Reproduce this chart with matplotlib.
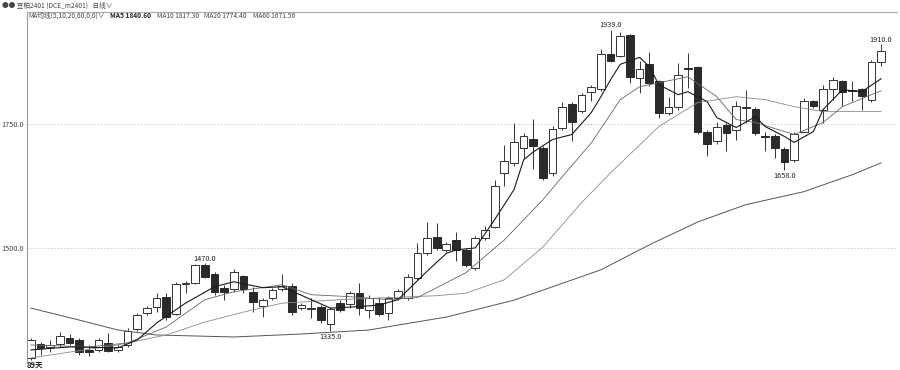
import matplotlib.pyplot as plt
from matplotlib.patches import Rectangle

plt.rcParams['font.family'] = ['Noto Sans CJK SC', 'DejaVu Sans']

# daily candles, 89 days
opens = [1280, 1307, 1302, 1308, 1320, 1315, 1296, 1296, 1310, 1296,
         1306, 1338, 1370, 1382, 1403, 1368, 1429, 1431, 1467, 1449,
         1421, 1419, 1445, 1413, 1384, 1400, 1418, 1424, 1380, 1379,
         1382, 1348, 1390, 1388, 1410, 1376, 1390, 1370, 1400, 1400,
         1441, 1491, 1523, 1496, 1516, 1497, 1461, 1521, 1544, 1652,
         1672, 1702, 1720, 1702, 1652, 1743, 1791, 1776, 1815, 1821,
         1891, 1886, 1929, 1843, 1871, 1836, 1772, 1784, 1863, 1864,
         1735, 1715, 1749, 1738, 1785, 1780, 1725, 1726, 1700, 1678,
         1735, 1796, 1779, 1821, 1836, 1818, 1821, 1799, 1874]
closes = [1316, 1300, 1306, 1324, 1310, 1292, 1292, 1315, 1294, 1302,
          1334, 1366, 1380, 1400, 1363, 1429, 1431, 1467, 1443, 1413,
          1412, 1453, 1418, 1393, 1396, 1416, 1424, 1373, 1386, 1381,
          1356, 1378, 1376, 1410, 1380, 1400, 1368, 1400, 1414, 1443,
          1491, 1521, 1501, 1509, 1497, 1467, 1521, 1537, 1626, 1675,
          1713, 1726, 1705, 1642, 1741, 1785, 1755, 1809, 1824, 1891,
          1876, 1927, 1844, 1861, 1833, 1772, 1784, 1849, 1861, 1734,
          1710, 1745, 1732, 1787, 1783, 1732, 1723, 1702, 1673, 1729,
          1797, 1786, 1821, 1839, 1814, 1816, 1807, 1874, 1896]
highs = [1320, 1312, 1316, 1333, 1328, 1320, 1306, 1320, 1330, 1308,
         1340, 1370, 1384, 1411, 1410, 1433, 1435, 1469, 1470, 1453,
         1427, 1459, 1447, 1423, 1400, 1420, 1449, 1431, 1390, 1400,
         1386, 1382, 1396, 1414, 1430, 1406, 1402, 1404, 1418, 1449,
         1511, 1553, 1551, 1513, 1534, 1501, 1525, 1545, 1638, 1708,
         1753, 1732, 1761, 1706, 1747, 1795, 1795, 1813, 1829, 1900,
         1939, 1934, 1931, 1876, 1895, 1839, 1805, 1873, 1893, 1867,
         1738, 1755, 1752, 1796, 1819, 1785, 1735, 1730, 1704, 1735,
         1802, 1799, 1829, 1845, 1839, 1836, 1823, 1879, 1910]
lows = [1276, 1285, 1292, 1302, 1306, 1286, 1283, 1292, 1292, 1292,
        1302, 1334, 1366, 1373, 1356, 1366, 1410, 1429, 1441, 1406,
        1396, 1413, 1410, 1373, 1363, 1396, 1414, 1366, 1376, 1360,
        1350, 1335, 1372, 1380, 1366, 1360, 1364, 1356, 1396, 1396,
        1437, 1487, 1497, 1493, 1474, 1463, 1457, 1517, 1541, 1625,
        1666, 1682, 1660, 1638, 1646, 1738, 1715, 1773, 1796, 1816,
        1874, 1884, 1833, 1813, 1827, 1762, 1769, 1779, 1823, 1729,
        1685, 1710, 1695, 1718, 1752, 1728, 1695, 1682, 1658, 1674,
        1733, 1783, 1753, 1799, 1786, 1796, 1779, 1795, 1866]

# moving average lines, read at some of the candles
ma5_idx = [0, 4, 9, 11, 13, 16, 19, 21, 24, 26, 29, 31, 33, 36, 38, 41, 43, 44, 46, 48,
           50, 51, 52, 54, 56, 58, 59, 60, 61, 63, 64, 65, 67, 68, 70, 71, 73, 75, 76, 78,
           79, 81, 82, 84, 86, 88]
ma5_val = [1296, 1302, 1300, 1316, 1350, 1390, 1423, 1433, 1421, 1423, 1397, 1380, 1382, 1386,
           1397, 1454, 1490, 1497, 1501, 1558, 1618, 1678, 1694, 1719, 1729, 1773, 1805, 1839,
           1870, 1884, 1866, 1829, 1809, 1815, 1795, 1763, 1743, 1765, 1745, 1725, 1713, 1735,
           1779, 1819, 1815, 1841]
ma10_idx = [0, 6, 10, 14, 18, 21, 26, 29, 33, 37, 40, 45, 49, 53, 55, 58, 61, 63, 68, 71,
            73, 75, 79, 82, 84, 88]
ma10_val = [1306, 1302, 1310, 1342, 1397, 1413, 1427, 1407, 1403, 1397, 1401, 1451, 1517, 1598,
            1644, 1712, 1799, 1825, 1845, 1805, 1759, 1753, 1729, 1753, 1785, 1817]
ma20_idx = [0, 9, 14, 18, 22, 26, 32, 37, 42, 45, 49, 53, 57, 60, 65, 69, 71, 73, 76, 79, 82, 88]
ma20_val = [1280, 1306, 1326, 1352, 1372, 1390, 1397, 1401, 1405, 1410, 1437, 1503, 1592, 1652,
            1745, 1793, 1799, 1805, 1799, 1785, 1775, 1775]
ma60_idx = [0, 5, 9, 13, 21, 28, 35, 38, 43, 50, 54, 59, 64, 69, 74, 80, 85, 88]
ma60_val = [1380, 1356, 1336, 1326, 1322, 1328, 1336, 1346, 1362, 1396, 1423, 1457, 1507, 1553,
            1588, 1614, 1648, 1672]

# marked extremes: (candle, 'high' or 'low')
marks = [(18, 'high'), (31, 'low'), (60, 'high'), (78, 'low'), (88, 'high')]

fig = plt.figure(figsize=(9, 3.7), dpi=100)
ax = fig.add_axes([27 / 900, 8 / 370, 870 / 900, 350 / 370])

n = len(opens)
w = 0.8
for i in range(n):
    o, c, h, l = opens[i], closes[i], highs[i], lows[i]
    ax.vlines(i, l, h, color='#333333', lw=0.7, zorder=1)
    lo, hi = min(o, c), max(o, c)
    if hi - lo < 2:
        ax.hlines((o + c) / 2, i - w / 2, i + w / 2, color='#222222', lw=1.2, zorder=2)
        continue
    if c >= o:
        ax.add_patch(Rectangle((i - w / 2, lo), w, hi - lo, facecolor='white',
                               edgecolor='#333333', lw=0.7, zorder=2))
    else:
        ax.add_patch(Rectangle((i - w / 2, lo), w, hi - lo, facecolor='#2a2a2a',
                               edgecolor='#2a2a2a', lw=0.7, zorder=2))

ax.plot(ma60_idx, ma60_val, color='#555555', lw=0.7, zorder=3)
ax.plot(ma20_idx, ma20_val, color='#8a8a8a', lw=0.6, zorder=3)
ax.plot(ma10_idx, ma10_val, color='#666666', lw=0.6, zorder=3)
ax.plot(ma5_idx, ma5_val, color='#1a1a1a', lw=0.8, zorder=3)

for i, kind in marks:
    if kind == 'high':
        ax.annotate(f'{highs[i]:.1f}', (i, highs[i]), xytext=(0, 0.5), textcoords='offset points',
                    ha='center', va='bottom', fontsize=5.3, color='#222222')
    else:
        ax.annotate(f'{lows[i]:.1f}', (i, lows[i]), xytext=(0, -1.5), textcoords='offset points',
                    ha='center', va='top', fontsize=5.3, color='#222222')

for v in [1500, 1750]:
    ax.axhline(v, color='#c8c8c8', lw=0.6, ls=(0, (2, 2)), zorder=0)

ax.set_xlim(-0.41, 89.65)
ax.set_ylim(1271.7, 1975.2)
ax.set_xticks([])
ax.set_yticks([1500, 1750])
ax.set_yticklabels(['1500.0', '1750.0'])
ax.tick_params(axis='y', length=0, pad=2, labelsize=5.3, labelcolor='#444444')
for s in ['right', 'bottom']:
    ax.spines[s].set_visible(False)
ax.spines['left'].set_color('#999999')
ax.spines['top'].set_color('#aaaaaa')
ax.spines['left'].set_linewidth(0.8)
ax.spines['top'].set_linewidth(0.8)

hdr = dict(fontsize=4.8, color='#444444', va='center')
fig.text(2 / 900, 1 - 5.5 / 370, '●● 豆粕2401 (DCE_m2401)   日线∨', **hdr)
fig.text(28 / 900, 1 - 15.5 / 370, 'MA均线(5,10,20,60,0,0)∨', **hdr)
fig.text(110 / 900, 1 - 15.5 / 370, 'MA5 1840.60', fontsize=4.8, color='#222222',
         va='center', fontweight='bold')
fig.text(157 / 900, 1 - 15.5 / 370, 'MA10 1817.30', **hdr)
fig.text(204 / 900, 1 - 15.5 / 370, 'MA20 1774.40', **hdr)
fig.text(253 / 900, 1 - 15.5 / 370, 'MA60 1671.56', **hdr)
fig.text(27 / 900, 1 - 365 / 370, f'{n}天', fontsize=5.5, color='#222222', va='center',
         fontweight='bold')

fig.savefig('out.png', dpi=100, facecolor='white')
